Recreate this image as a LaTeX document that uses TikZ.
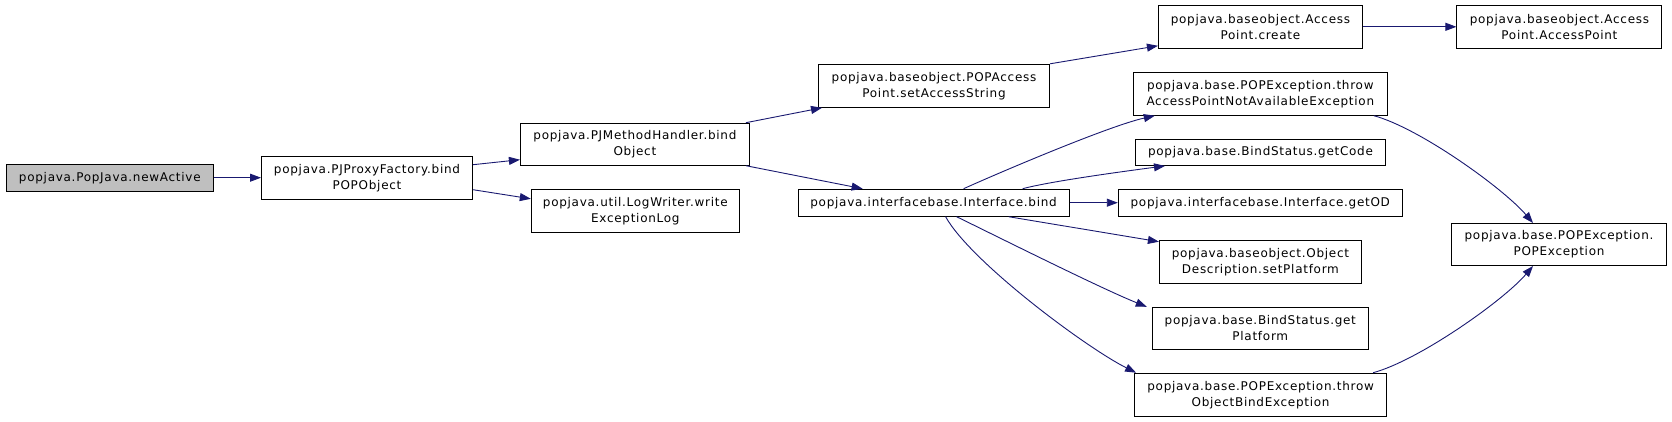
\documentclass[tikz,border=0pt]{standalone}
\usepackage{fontspec}
\newfontfamily\dxfont{DejaVu Sans}[LetterSpace=6]
\usetikzlibrary{arrows.meta}
\definecolor{edgeblue}{HTML}{191970}
\definecolor{rootgray}{HTML}{BFBFBF}

\begin{document}
\begin{tikzpicture}[x=1pt,y=-1pt,font=\dxfont\fontsize{12}{16}\selectfont,
	fn/.style={draw=black,line width=1pt,align=center,inner sep=0pt},
	call/.style={draw=edgeblue,line width=0.9pt,-{Triangle[length=11pt,width=8pt]}}]
	\useasboundingbox (0,0) rectangle (1672,421);

	%functions
	\node[fn,fill=rootgray,minimum width=207pt,minimum height=27pt] (newActive) at (109.8,177.7) {popjava.PopJava.newActive}; %root
	\node[fn,minimum width=211pt,minimum height=43pt] (bindPOPObject) at (367,177.7) {popjava.PJProxyFactory.bind\\POPObject};
	\node[fn,minimum width=229pt,minimum height=42pt] (bindObject) at (634.9,144.2) {popjava.PJMethodHandler.bind\\Object};
	\node[fn,minimum width=208pt,minimum height=43pt] (writeLog) at (635.3,210.8) {popjava.util.LogWriter.write\\ExceptionLog};
	\node[fn,minimum width=231pt,minimum height=43pt] (setAccess) at (934,85.8) {popjava.baseobject.POPAccess\\Point.setAccessString};
	\node[fn,minimum width=271pt,minimum height=27pt] (ifaceBind) at (933.6,202.7) {popjava.interfacebase.Interface.bind};
	\node[fn,minimum width=204pt,minimum height=43pt] (apCreate) at (1260.4,26.8) {popjava.baseobject.Access\\Point.create};
	\node[fn,minimum width=254pt,minimum height=43pt] (throwAPNA) at (1260.3,93.7) {popjava.base.POPException.throw\\AccessPointNotAvailableException};
	\node[fn,minimum width=250pt,minimum height=26pt] (getCode) at (1260.5,152.4) {popjava.base.BindStatus.getCode};
	\node[fn,minimum width=284pt,minimum height=27pt] (getOD) at (1260.3,202.7) {popjava.interfacebase.Interface.getOD};
	\node[fn,minimum width=202pt,minimum height=43pt] (setPlatform) at (1260.4,261.7) {popjava.baseobject.Object\\Description.setPlatform};
	\node[fn,minimum width=216pt,minimum height=42pt] (getPlatform) at (1260.3,328.3) {popjava.base.BindStatus.get\\Platform};
	\node[fn,minimum width=252pt,minimum height=43pt] (throwOBE) at (1260.6,394.7) {popjava.base.POPException.throw\\ObjectBindException};
	\node[fn,minimum width=205pt,minimum height=43pt] (apCtor) at (1559.4,26.8) {popjava.baseobject.Access\\Point.AccessPoint};
	\node[fn,minimum width=215pt,minimum height=42pt] (popEx) at (1559,244.5) {popjava.base.POPException.\\POPException};

	%calls
	\draw[call] (newActive.east) -- (bindPOPObject.west);
	\draw[call] ([yshift=13pt]bindPOPObject.east) -- ([yshift=6pt]bindObject.south west);
	\draw[call] ([yshift=-12pt]bindPOPObject.east) -- ([yshift=12pt]writeLog.west);
	\draw[call] ([xshift=-4pt]bindObject.north east) -- ([xshift=4pt]setAccess.south west);
	\draw[call] ([xshift=-4pt]bindObject.south east) -- ([xshift=65pt]ifaceBind.north west);
	\draw[call] (setAccess.north east) -- ([yshift=3pt]apCreate.south west);
	\draw[call] (apCreate.east) -- (apCtor.west);

	%calls out of Interface.bind
	\draw[call] ([xshift=30pt]ifaceBind.north) .. controls +(40,-18) and +(-45,10) .. ([xshift=22pt]throwAPNA.south west);
	\draw[call] ([xshift=89pt]ifaceBind.north) .. controls +(30,-8) and +(-30,4) .. ([xshift=30pt]getCode.south west);
	\draw[call] (ifaceBind.east) -- (getOD.west);
	\draw[call] ([xshift=75pt]ifaceBind.south) -- ([yshift=-2pt]setPlatform.north west);
	\draw[call] ([xshift=23pt]ifaceBind.south) .. controls +(45,22) and +(-45,-18) .. ([xshift=-5pt]getPlatform.north west);
	\draw[call] ([xshift=12pt]ifaceBind.south) .. controls +(25,45) and +(-50,-25) .. ([xshift=2pt]throwOBE.north west);

	%exceptions
	\draw[call] ([xshift=-14pt]throwAPNA.south east) .. controls +(45,12) and +(-30,-35) .. ([xshift=-26pt]popEx.north);
	\draw[call] ([xshift=-14pt]throwOBE.north east) .. controls +(45,-12) and +(-30,35) .. ([xshift=-26pt]popEx.south);
\end{tikzpicture}
\end{document}
